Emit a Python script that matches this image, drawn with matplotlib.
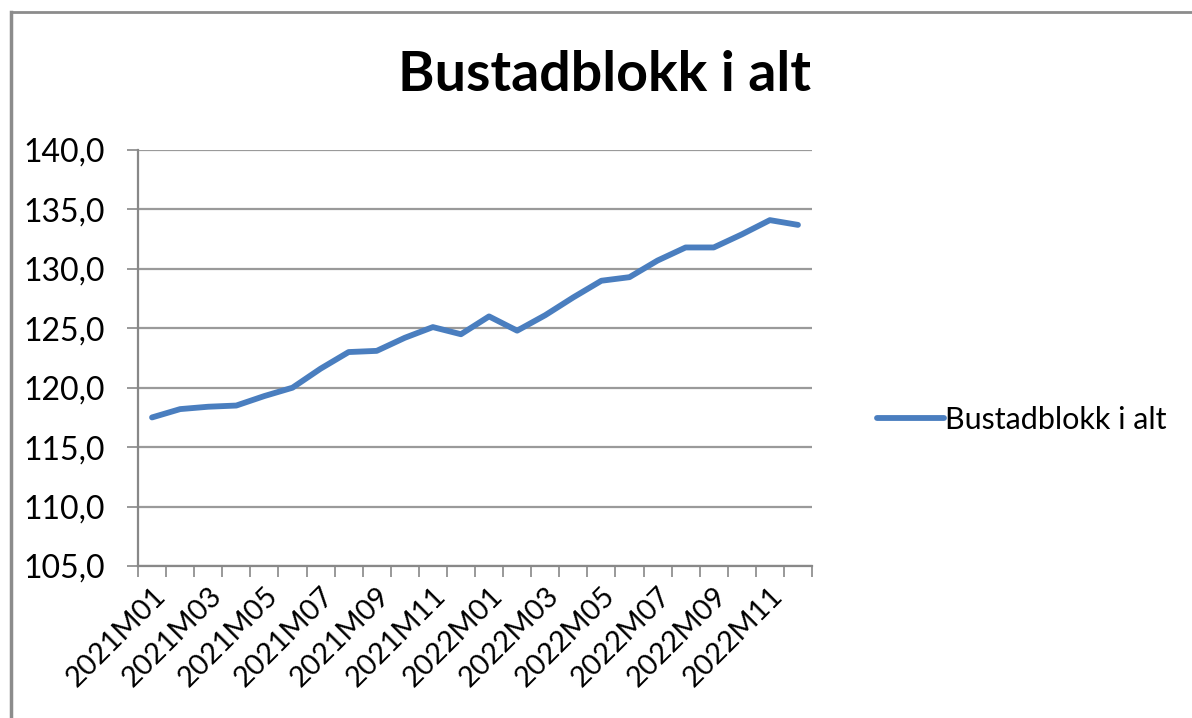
import numpy as np
import matplotlib.pyplot as plt
from matplotlib.lines import Line2D

plt.rcParams['font.family'] = ['Lato', 'DejaVu Sans']

# data
months = ['2021M%02d' % m for m in range(1, 13)] + ['2022M%02d' % m for m in range(1, 13)]
values = [117.5, 118.2, 118.4, 118.5, 119.3, 120.0, 121.6, 123.0, 123.1, 124.2,
          125.1, 124.5, 126.0, 124.8, 126.1, 127.6, 129.0, 129.3, 130.7, 131.8,
          131.8, 132.9, 134.1, 133.7]
series_name = 'Bustadblokk i alt'
title = 'Bustadblokk i alt'
yticks = [105, 110, 115, 120, 125, 130, 135, 140]

fig = plt.figure(figsize=(11.92, 7.18), dpi=100)
ax = fig.add_axes([138/1192, 1-566/718, (812-138)/1192, (566-150)/718])

x = np.arange(len(values))
line, = ax.plot(x, values, color='#4A7EBF', lw=4.2, solid_capstyle='round', solid_joinstyle='round')

ax.set_ylim(105, 140)
ax.set_yticks(yticks)
ax.set_yticklabels([('%.1f' % v).replace('.', ',') for v in yticks])
ax.yaxis.grid(True, color='#9a9a9a', lw=1.6)
ax.set_axisbelow(True)

ax.set_xlim(-0.5, len(values) - 0.5)
ax.set_xticks(x[::2])
ax.set_xticklabels(months[::2], rotation=45, ha='right', rotation_mode='anchor')
ax.set_xticks(np.arange(-0.5, len(values)), minor=True)
ax.tick_params(axis='x', which='major', length=0, pad=12, labelsize=21)
ax.tick_params(axis='x', which='minor', length=8, width=1.2, color='#888888', direction='out')
ax.tick_params(axis='y', length=8, width=1.2, color='#888888', labelsize=23, pad=16)

for s in ['top', 'right']:
    ax.spines[s].set_visible(False)
for s in ['left', 'bottom']:
    ax.spines[s].set_color('#888888')
    ax.spines[s].set_linewidth(1.6)

fig.text(604/1192, 1-75/718, title, ha='center', va='center', fontsize=40, fontweight='bold')

leg = fig.legend([line], [series_name], loc='center left', bbox_to_anchor=(849/1192, 1-420/718),
                 frameon=False, fontsize=22, handlelength=2.2, handletextpad=0.05)

# chart border
fig.add_artist(Line2D([11/1192, 1], [1-12/718, 1-12/718], transform=fig.transFigure, color='#8c8c8c', lw=2))
fig.add_artist(Line2D([11/1192, 11/1192], [0, 1-12/718], transform=fig.transFigure, color='#8c8c8c', lw=2.5))

fig.savefig('out.png', dpi=100)
